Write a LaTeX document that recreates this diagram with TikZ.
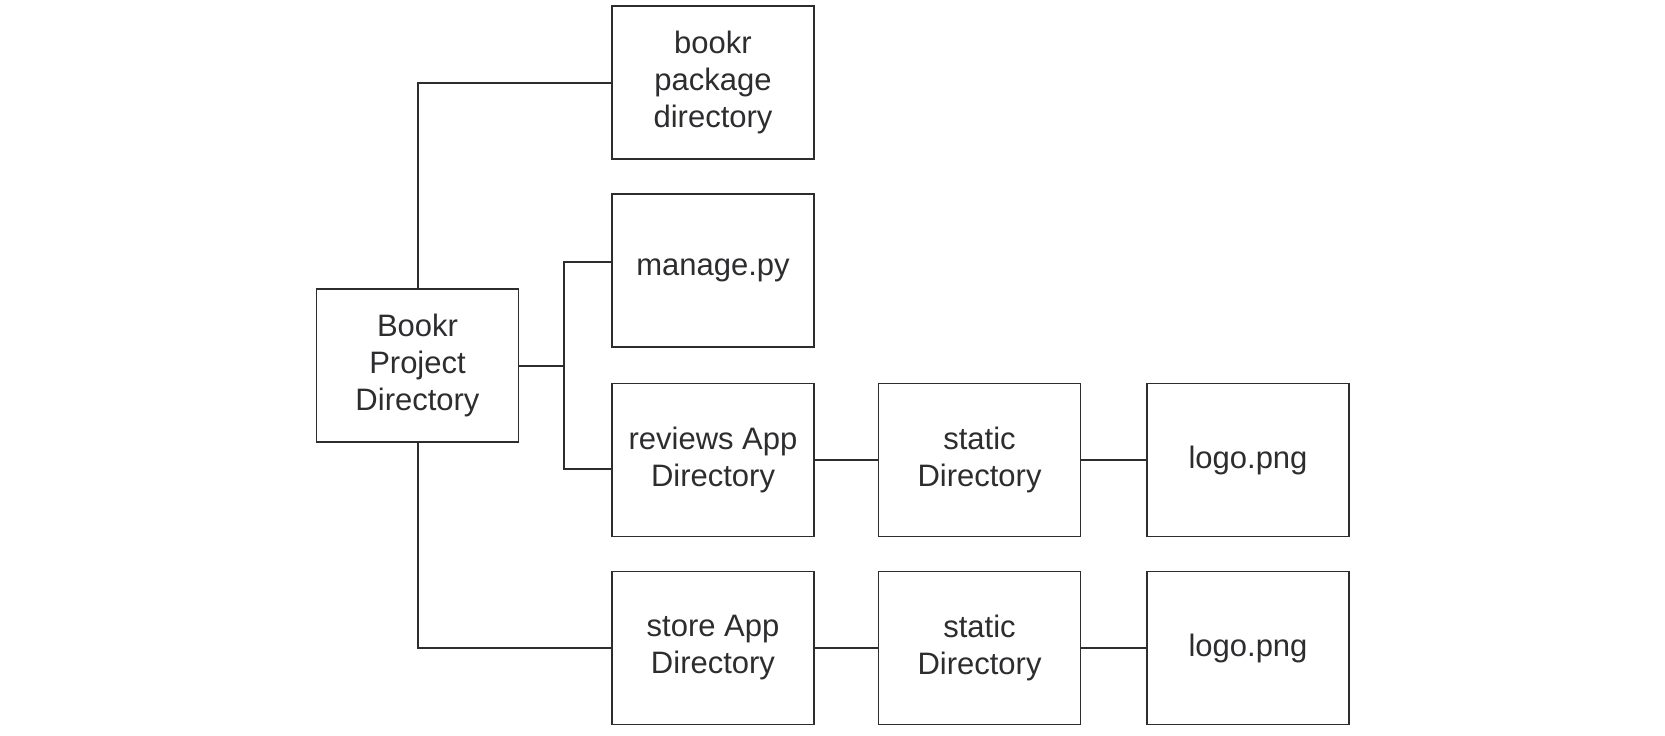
\documentclass[tikz,border=0pt]{standalone}
\usepackage{fontspec}
\setmainfont{Liberation Sans}
\definecolor{inkgray}{RGB}{45,45,48}
\tikzset{
    dirbox/.style={draw=inkgray, line width=1.4pt, text=inkgray, align=center,
        inner sep=0pt, minimum height=153pt, minimum width=202pt,
        font=\fontsize{31}{37}\selectfont},
    branch/.style={draw=inkgray, line width=2pt}
}
\begin{document}
\begin{tikzpicture}[x=1pt, y=-1pt]
    \useasboundingbox (0,0) rectangle (1665,736);
    \node[dirbox] (proj) at (417.5,365.5) {Bookr\\Project\\Directory};
    \node[dirbox] (bookr) at (713,82.5) {bookr\\package\\directory};
    \node[dirbox] (manage) at (713,270.5) {manage.py};
    \node[dirbox] (reviews) at (713,460) {reviews App\\Directory};
    \node[dirbox] (store) at (713,648) {store App\\Directory};
    \node[dirbox] (revstatic) at (979.5,460) {static\\Directory};
    \node[dirbox] (revlogo) at (1248,460) {logo.png};
    \node[dirbox] (storestatic) at (979.5,648) {static\\Directory};
    \node[dirbox] (storelogo) at (1248,648) {logo.png};
    % tree lines
    \coordinate (trunk) at (564,365.5);
    \draw[branch] (proj.north) |- (bookr.west);
    \draw[branch] (proj.south) |- (store.west);
    \draw[branch] (proj.east) -- (trunk);
    \draw[branch] (trunk) |- ([yshift=8.5pt]manage.west);
    \draw[branch] (trunk) |- ([yshift=-9pt]reviews.west);
    \draw[branch] (reviews) -- (revstatic) -- (revlogo);
    \draw[branch] (store) -- (storestatic) -- (storelogo);
\end{tikzpicture}
\end{document}
